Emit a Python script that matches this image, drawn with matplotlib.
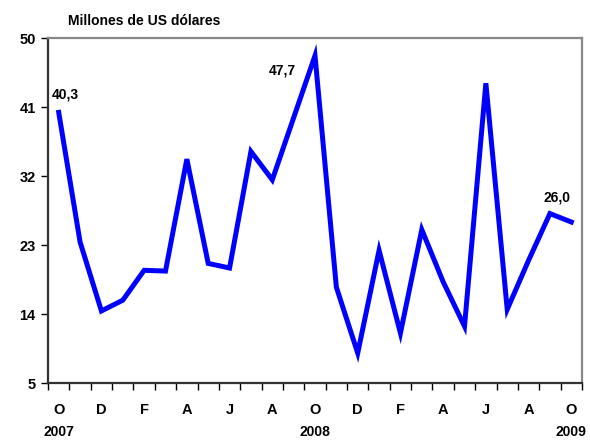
import numpy as np
import matplotlib
matplotlib.use("Agg")
import matplotlib.pyplot as plt
from matplotlib.ticker import FixedLocator

plt.rcParams['font.family'] = ['Liberation Sans Narrow', 'Liberation Sans', 'DejaVu Sans']

# monthly series, Oct 2007 - Oct 2009
months = ['O', 'N', 'D', 'E', 'F', 'M', 'A', 'M', 'J', 'J', 'A', 'S',
          'O', 'N', 'D', 'E', 'F', 'M', 'A', 'M', 'J', 'J', 'A', 'S', 'O']
values = [40.3, 23.4, 14.4, 15.8, 19.7, 19.6, 34.2, 20.6, 20.0, 35.2, 31.5, 39.6,
          47.7, 17.5, 8.9, 22.3, 11.5, 25.0, 18.2, 12.4, 44.1, 14.6, 21.0, 27.1, 26.0]
years = {0: '2007', 12: '2008', 24: '2009'}
labeled = {0: (7, 18), 12: (-33, -15), 24: (-14, 25)}  # index -> text offset (px)
yticks = [5, 14, 23, 32, 41, 50]

fig = plt.figure(figsize=(5.9, 4.41), dpi=100)
ax = fig.add_axes([0.0814, 0.1315, 0.905, 0.7823])

x = np.arange(len(values))
ax.plot(x, values, color='#0000ff', lw=3.6, solid_joinstyle='miter')

ax.set_xlim(-0.5, len(values) - 0.5)
ax.set_ylim(5, 50)

ax.set_yticks(yticks)
ax.set_yticklabels([str(t) for t in yticks], fontsize=10.5, fontweight='bold')
ax.tick_params(axis='y', length=5, width=1, pad=4)

# month boundaries carry the ticks, labels every second month centred below
ax.xaxis.set_major_locator(FixedLocator(np.arange(-0.5, len(values), 1)))
ax.set_xticklabels([])
ax.tick_params(axis='x', length=5, width=1)
for i in range(0, len(months), 2):
    ax.text(i, -0.078, months[i], transform=ax.get_xaxis_transform(),
            ha='center', va='center', fontsize=10.5, fontweight='bold')
for i, yr in years.items():
    ax.text(i, -0.143, yr, transform=ax.get_xaxis_transform(),
            ha='center', va='center', fontsize=10, fontweight='bold')

for sp in ['left', 'bottom']:
    ax.spines[sp].set_color('#333333')
    ax.spines[sp].set_linewidth(1.6)
for sp in ['top', 'right']:
    ax.spines[sp].set_color('#888888')
    ax.spines[sp].set_linewidth(1.6)

for i, (dx, dy) in labeled.items():
    ax.annotate(f'{values[i]:.1f}'.replace('.', ','), (i, values[i]),
                xytext=(dx, dy), textcoords='offset pixels',
                ha='center', va='center', fontsize=10, fontweight='bold')

fig.text(0.115, 0.953, 'Millones de US dólares', fontsize=10, fontweight='bold',
         va='center')

fig.savefig('out.png', dpi=100)
